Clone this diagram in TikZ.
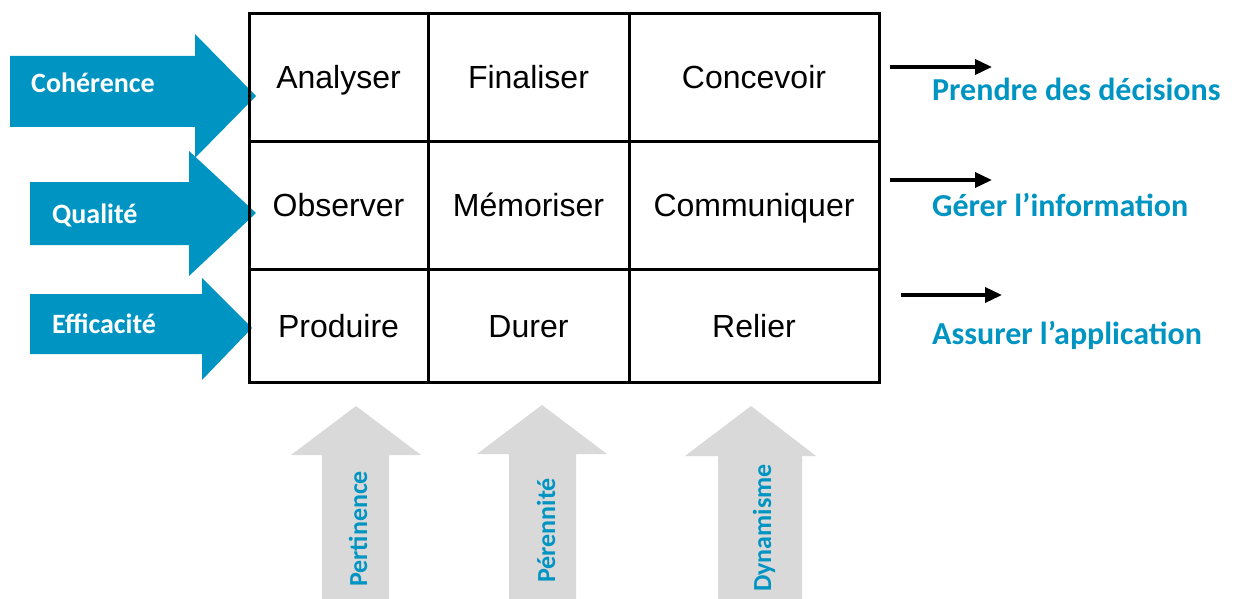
\documentclass[tikz,border=0pt]{standalone}
\usepackage{fontspec}
\setmainfont{Liberation Sans}
\newfontfamily\lblfont{Carlito}
\usetikzlibrary{arrows.meta}
\definecolor{tealblue}{RGB}{0,148,194}
\definecolor{arrowgray}{RGB}{217,217,217}
\begin{document}
\begin{tikzpicture}[x=1pt,y=-1pt,
  cell/.style={draw, line width=3pt, inner sep=0pt, text height=23pt, text depth=0pt,
    font=\fontsize{32}{38}\selectfont},
  lbl/.style={inner sep=0pt, text=tealblue, font=\lblfont\bfseries\fontsize{26}{30}\selectfont},
  llbl/.style={lbl, text=white, font=\lblfont\bfseries\fontsize{28}{32}\selectfont},
  rlbl/.style={lbl, font=\lblfont\bfseries\fontsize{32}{36}\selectfont},
  outarrow/.style={line width=3.5pt, -{Triangle[length=17pt,width=15pt]}},
  bluearrow/.style={fill=tealblue},
  grayarrow/.style={fill=arrowgray}]
\useasboundingbox (0,0) rectangle (1236,599);

% left blue arrows
\fill[bluearrow] (10,56) -- (195,56) -- (195,34) -- (256,96) -- (195,158) -- (195,127) -- (10,127) -- cycle;
\fill[bluearrow] (30,182) -- (189,182) -- (189,151) -- (256,213) -- (189,276) -- (189,245) -- (30,245) -- cycle;
\fill[bluearrow] (30,294) -- (202,294) -- (202,278) -- (252,328) -- (202,380) -- (202,354) -- (30,354) -- cycle;
\node[llbl, anchor=base west] (coh) at (31,93) {Cohérence};
\node[llbl, anchor=base west] (qual) at (52,223) {Qualité};
\node[llbl, anchor=base west] (eff) at (52,333) {Efficacité};

% table
\node[cell, minimum width=179pt, minimum height=127pt] (c11) at (338.5,77.5) {Analyser};
\node[cell, minimum width=201pt, minimum height=127pt] (c12) at (528.5,77.5) {Finaliser};
\node[cell, minimum width=250pt, minimum height=127pt] (c13) at (754,77.5) {Concevoir};
\node[cell, minimum width=179pt, minimum height=128pt] (c21) at (338.5,205) {Observer};
\node[cell, minimum width=201pt, minimum height=128pt] (c22) at (528.5,205) {Mémoriser};
\node[cell, minimum width=250pt, minimum height=128pt] (c23) at (754,205) {Communiquer};
\node[cell, minimum width=179pt, minimum height=113pt] (c31) at (338.5,325.5) {Produire};
\node[cell, minimum width=201pt, minimum height=113pt] (c32) at (528.5,325.5) {Durer};
\node[cell, minimum width=250pt, minimum height=113pt] (c33) at (754,325.5) {Relier};

% right arrows and labels
\coordinate (r1s) at (890,67); \coordinate (r1e) at (992,67);
\coordinate (r2s) at (890,180); \coordinate (r2e) at (992,180);
\coordinate (r3s) at (901,295); \coordinate (r3e) at (1002,295);
\draw[outarrow] (r1s) -- (r1e);
\draw[outarrow] (r2s) -- (r2e);
\draw[outarrow] (r3s) -- (r3e);
\node[rlbl, anchor=base west] (pd) at (932,101) {Prendre des décisions};
\node[rlbl, anchor=base west] (gi) at (932,216) {Gérer l’information};
\node[rlbl, anchor=base west] (aa) at (932,344) {Assurer l’application};

% bottom gray arrows
\fill[grayarrow] (322,599) -- (322,455) -- (291,455) -- (356,406) -- (421,455) -- (389,455) -- (389,599) -- cycle;
\fill[grayarrow] (509,599) -- (509,454) -- (477,454) -- (542,405) -- (607,454) -- (576,454) -- (576,599) -- cycle;
\fill[grayarrow] (718,599) -- (718,456) -- (685,456) -- (751,406) -- (816,456) -- (802,456) -- (802,599) -- cycle;
\node[lbl, rotate=90, anchor=base west] (pert) at (367,587) {Pertinence};
\node[lbl, rotate=90, anchor=base west] (per) at (555,583) {Pérennité};
\node[lbl, rotate=90, anchor=base west] (dyn) at (771,592) {Dynamisme};
\end{tikzpicture}
\end{document}
